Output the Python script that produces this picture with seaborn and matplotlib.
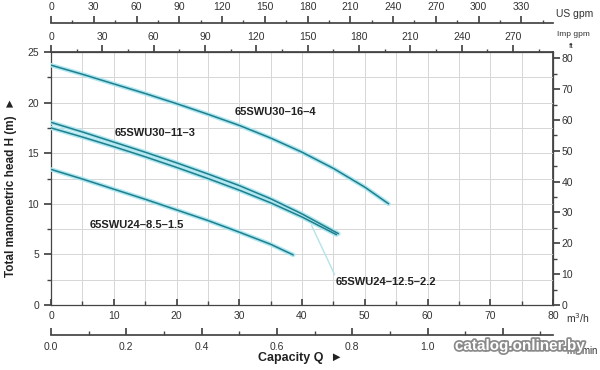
import matplotlib
matplotlib.use("Agg")
import matplotlib.pyplot as plt
import matplotlib.patheffects as pe
import numpy as np
import pandas as pd
import seaborn as sns
from matplotlib.ticker import MultipleLocator, FormatStrFormatter

# ---- data ----
q_d = [0, 5, 10, 15, 20, 25, 30, 35, 40, 45, 50, 53.8]
h_d = [23.7, 22.8, 21.85, 20.9, 19.9, 18.85, 17.75, 16.5, 15.1, 13.5, 11.65, 10.0]   # 65SWU30-16-4

q_a = [0, 5, 10, 15, 20, 25, 30, 35, 40, 45.8]
h_a = [18.05, 17.1, 16.1, 15.1, 14.05, 12.95, 11.8, 10.5, 9.0, 7.05]   # 65SWU30-11-3

q_b = [0, 5, 10, 15, 20, 25, 30, 35, 40, 45.5]
h_b = [17.5, 16.6, 15.65, 14.65, 13.6, 12.5, 11.35, 10.1, 8.7, 6.95]   # 65SWU24-12.5-2.2

q_c = [0, 5, 10, 15, 20, 25, 30, 35, 38.6]
h_c = [13.4, 12.45, 11.45, 10.45, 9.4, 8.35, 7.2, 6.0, 4.95]           # 65SWU24-8.5-1.5

names = ["65SWU30\u201316\u20134", "65SWU30\u201311\u20133",
         "65SWU24\u201312.5\u20132.2", "65SWU24\u20138.5\u20131.5"]

sns.set_theme(style="white")
plt.rcParams['font.family'] = ['Liberation Sans', 'DejaVu Sans']

fig = plt.figure(figsize=(6, 3.7), dpi=100)
ax = fig.add_axes([51/600, 65/370, 502/600, 253/370])

curves = [(q_d, h_d), (q_a, h_a), (q_b, h_b), (q_c, h_c)]
for (qq, hh), nm in zip(curves, names):
    df = pd.DataFrame({"Q": qq, "H": hh})
    sns.lineplot(data=df, x="Q", y="H", ax=ax, color="#aee7f1", lw=3.2,
                 sort=False, estimator=None, legend=False, zorder=3,
                 solid_joinstyle="round", solid_capstyle="round")
    sns.lineplot(data=df, x="Q", y="H", ax=ax, color="#1f7f8c", lw=1.1,
                 sort=False, estimator=None, legend=False, zorder=4,
                 solid_joinstyle="round", solid_capstyle="round")

ax.set_xlim(0, 80)
ax.set_ylim(0, 25)
ax.set_xlabel("")
ax.set_ylabel("")
ax.xaxis.set_major_locator(MultipleLocator(10))
ax.xaxis.set_minor_locator(MultipleLocator(5))
ax.yaxis.set_major_locator(MultipleLocator(5))
ax.yaxis.set_minor_locator(MultipleLocator(2.5))
ax.grid(which="both", color="#d6d6d6", lw=0.7, zorder=0)
ax.set_axisbelow(True)

spc = "#444444"
tc = "#333333"
for s in ax.spines.values():
    s.set_color(spc)
    s.set_linewidth(0.9)

ax.tick_params(axis="x", which="both", direction="in", colors=spc,
               labelcolor=tc, labelsize=7.5, pad=4, bottom=True, top=False)
ax.tick_params(axis="x", which="major", length=4)
ax.tick_params(axis="x", which="minor", length=3)
ax.tick_params(axis="y", which="both", direction="out", colors=spc,
               labelcolor=tc, labelsize=7.5, left=True, right=False)
ax.tick_params(axis="y", which="major", length=5)
ax.tick_params(axis="y", which="minor", length=3)

# top: Imp gpm
imp = ax.secondary_xaxis("top", functions=(lambda q: q * 3.6662, lambda g: g / 3.6662))
imp.xaxis.set_major_locator(MultipleLocator(30))
imp.xaxis.set_minor_locator(MultipleLocator(15))
imp.tick_params(which="both", direction="out", colors=spc, labelcolor=tc,
                labelsize=7.5, pad=2)
imp.tick_params(which="major", length=5)
imp.tick_params(which="minor", length=2.5)
imp.spines["top"].set_color(spc)

# top: US gpm
us = ax.secondary_xaxis(282/253, functions=(lambda q: q * 4.4029, lambda g: g / 4.4029))
us.xaxis.set_major_locator(MultipleLocator(30))
us.xaxis.set_minor_locator(MultipleLocator(15))
us.tick_params(which="both", direction="out", colors=spc, labelcolor=tc,
               labelsize=7.5, pad=3)
us.tick_params(which="major", length=5)
us.tick_params(which="minor", length=2.5)
us.spines["top"].set_color(spc)

# bottom: m3/min
mn = ax.secondary_xaxis(-30/253, functions=(lambda q: q / 60.0, lambda m: m * 60.0))
mn.set_xticks([0, 0.2, 0.4, 0.6, 0.8, 1.0, 1.2])
mn.xaxis.set_minor_locator(MultipleLocator(0.1))
mn.xaxis.set_major_formatter(FormatStrFormatter("%.1f"))
mn.tick_params(which="both", direction="in", colors=spc, labelcolor=tc,
               labelsize=7.5, pad=5)
mn.tick_params(which="major", length=5)
mn.tick_params(which="minor", length=3)
mn.spines["bottom"].set_color(spc)

# right: ft
ft = ax.secondary_yaxis("right", functions=(lambda h: h * 3.28084, lambda f: f / 3.28084))
ft.yaxis.set_major_locator(MultipleLocator(10))
ft.yaxis.set_minor_locator(MultipleLocator(5))
ft.tick_params(which="both", direction="out", colors=spc, labelcolor=tc,
               labelsize=7.5, pad=1)
ft.tick_params(which="major", length=5)
ft.tick_params(which="minor", length=3)
ft.spines["right"].set_color(spc)

# curve labels
lab_kw = dict(fontsize=8, fontweight="bold", color="#222222", zorder=6)
ax.text(29.3, 19.1, names[0], va="center", ha="left", **lab_kw)
ax.text(10.2, 17.0, names[1], va="center", ha="left", **lab_kw)
ax.text(45.3, 2.3, names[2], va="center", ha="left", **lab_kw)
ax.text(6.2, 7.9, names[3], va="center", ha="left", **lab_kw)
ax.plot([41.5, 45.2], [7.9, 3.0], color="#b6e2ea", lw=1.0, zorder=2)

# unit labels
fig.text(575/600, 1 - 14/370, "US gpm", fontsize=7.5, color=tc, ha="center", va="center")
fig.text(573/600, 1 - 35/370, "Imp gpm", fontsize=6, color=tc, ha="center", va="center")
fig.text(571/600, 1 - 46/370, "ft", fontsize=6, color=tc, ha="center", va="center")
fig.text(566/600, 1 - 318/370, "m$^3$/h", fontsize=7.5, color=tc, ha="left", va="center")
fig.text(599/600, 1 - 350/370, "m$^3$/min", fontsize=7, color=tc, ha="right", va="center")

fig.text(300/600, 1 - 358/370, "Capacity Q  \u25BA", fontsize=9, fontweight="bold",
         color="#222222", ha="center", va="center")
fig.text(11/600, 1 - 187/370, "Total manometric head H (m)  \u25BA", fontsize=8.5,
         fontweight="bold", color="#222222", ha="center", va="center", rotation=90)

# watermark
fig.text(520/600, 1 - 346/370, "catalog.onliner.by", fontsize=11, fontweight="bold",
         color="white", ha="center", va="center",
         path_effects=[pe.withStroke(linewidth=2.5, foreground="#8a8a8a")])

fig.savefig("out.png", dpi=100)
